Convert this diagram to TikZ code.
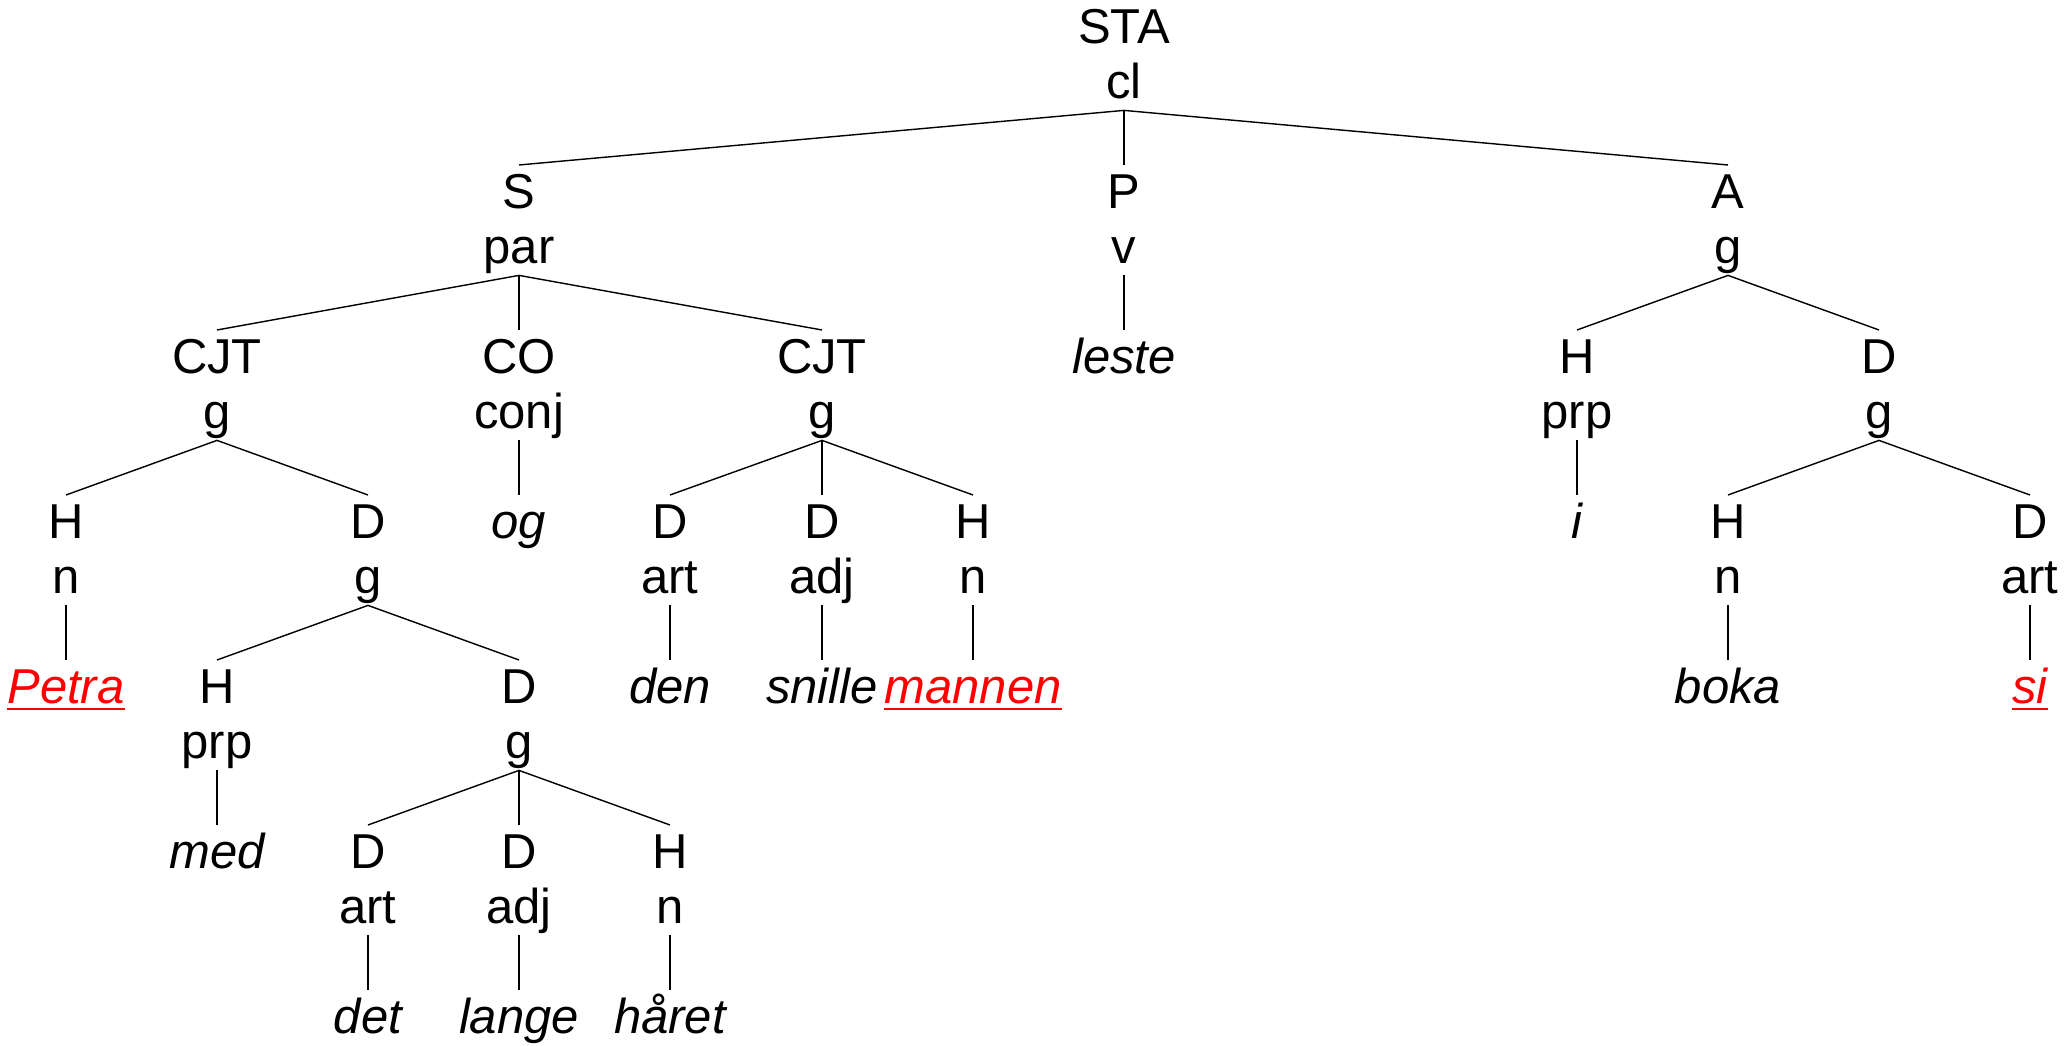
\documentclass[tikz,border=0pt]{standalone}
\usepackage{fontspec}
\setmainfont{Liberation Sans}
\newcommand\treefont{\fontsize{13.94pt}{15.65pt}\selectfont}
\newcommand\topstrut{\rule{0pt}{0.43cm}}
\newcommand\botstrut{\rule[-0.11cm]{0pt}{0.11cm}}
\newcommand\lbl[2]{\topstrut#1\\#2\botstrut}
\tikzset{
    tbase/.style={anchor=north, inner sep=0pt, font=\treefont},
    tn/.style={tbase, align=center},
    leaf/.style={tbase, font=\treefont\itshape,
        execute at begin node=\topstrut, execute at end node=\botstrut},
    hit/.style={leaf, text=red}
}

\begin{document}
\begin{tikzpicture}
    \useasboundingbox (0,0) rectangle (20.66,-10.46);

    % clause level
    \node[tn] (sta) at (11.24,0) {\lbl{STA}{cl}};

    \node[tn] (s) at (5.19,-1.65) {\lbl{S}{par}};
    \node[tn] (p) at (11.24,-1.65) {\lbl{P}{v}};
    \node[tn] (a) at (17.28,-1.65) {\lbl{A}{g}};

    % subject, verb, adverbial
    \node[tn] (cjta) at (2.17,-3.30) {\lbl{CJT}{g}};
    \node[tn] (co) at (5.19,-3.30) {\lbl{CO}{conj}};
    \node[tn] (cjtb) at (8.22,-3.30) {\lbl{CJT}{g}};
    \node[leaf] (leste) at (11.24,-3.30) {leste};
    \node[tn] (ha) at (15.77,-3.30) {\lbl{H}{prp}};
    \node[tn] (da) at (18.79,-3.30) {\lbl{D}{g}};

    \node[tn] (hpetra) at (0.66,-4.95) {\lbl{H}{n}};
    \node[tn] (dg) at (3.68,-4.95) {\lbl{D}{g}};
    \node[leaf] (og) at (5.19,-4.95) {og};
    \node[tn] (dden) at (6.70,-4.95) {\lbl{D}{art}};
    \node[tn] (dsnille) at (8.22,-4.95) {\lbl{D}{adj}};
    \node[tn] (hmannen) at (9.73,-4.95) {\lbl{H}{n}};
    \node[leaf] (i) at (15.77,-4.95) {i};
    \node[tn] (hboka) at (17.28,-4.95) {\lbl{H}{n}};
    \node[tn] (dsi) at (20.30,-4.95) {\lbl{D}{art}};

    % words
    \node[hit] (petra) at (0.66,-6.60) {\underline{Petra}};
    \node[tn] (hmed) at (2.17,-6.60) {\lbl{H}{prp}};
    \node[tn] (dgb) at (5.19,-6.60) {\lbl{D}{g}};
    \node[leaf] (den) at (6.70,-6.60) {den};
    \node[leaf] (snille) at (8.22,-6.60) {snille};
    \node[hit] (mannen) at (9.73,-6.60) {\underline{mannen}};
    \node[leaf] (boka) at (17.28,-6.60) {boka};
    \node[hit] (si) at (20.30,-6.60) {\underline{si}};

    \node[leaf] (med) at (2.17,-8.25) {med};
    \node[tn] (ddet) at (3.68,-8.25) {\lbl{D}{art}};
    \node[tn] (dlange) at (5.19,-8.25) {\lbl{D}{adj}};
    \node[tn] (hharet) at (6.70,-8.25) {\lbl{H}{n}};

    \node[leaf] (det) at (3.68,-9.90) {det};
    \node[leaf] (lange) at (5.19,-9.90) {lange};
    \node[leaf] (haret) at (6.70,-9.90) {håret};

    % branches
    \draw (sta.south) -- (s.north);
    \draw (sta.south) -- (p.north);
    \draw (sta.south) -- (a.north);

    \draw (s.south) -- (cjta.north);
    \draw (s.south) -- (co.north);
    \draw (s.south) -- (cjtb.north);
    \draw (p.south) -- (leste.north);
    \draw (a.south) -- (ha.north);
    \draw (a.south) -- (da.north);

    \draw (cjta.south) -- (hpetra.north);
    \draw (cjta.south) -- (dg.north);
    \draw (co.south) -- (og.north);
    \draw (cjtb.south) -- (dden.north);
    \draw (cjtb.south) -- (dsnille.north);
    \draw (cjtb.south) -- (hmannen.north);
    \draw (ha.south) -- (i.north);
    \draw (da.south) -- (hboka.north);
    \draw (da.south) -- (dsi.north);

    \draw (hpetra.south) -- (petra.north);
    \draw (dg.south) -- (hmed.north);
    \draw (dg.south) -- (dgb.north);
    \draw (dden.south) -- (den.north);
    \draw (dsnille.south) -- (snille.north);
    \draw (hmannen.south) -- (mannen.north);
    \draw (hboka.south) -- (boka.north);
    \draw (dsi.south) -- (si.north);

    \draw (hmed.south) -- (med.north);
    \draw (dgb.south) -- (ddet.north);
    \draw (dgb.south) -- (dlange.north);
    \draw (dgb.south) -- (hharet.north);

    \draw (ddet.south) -- (det.north);
    \draw (dlange.south) -- (lange.north);
    \draw (hharet.south) -- (haret.north);

\end{tikzpicture}
\end{document}
